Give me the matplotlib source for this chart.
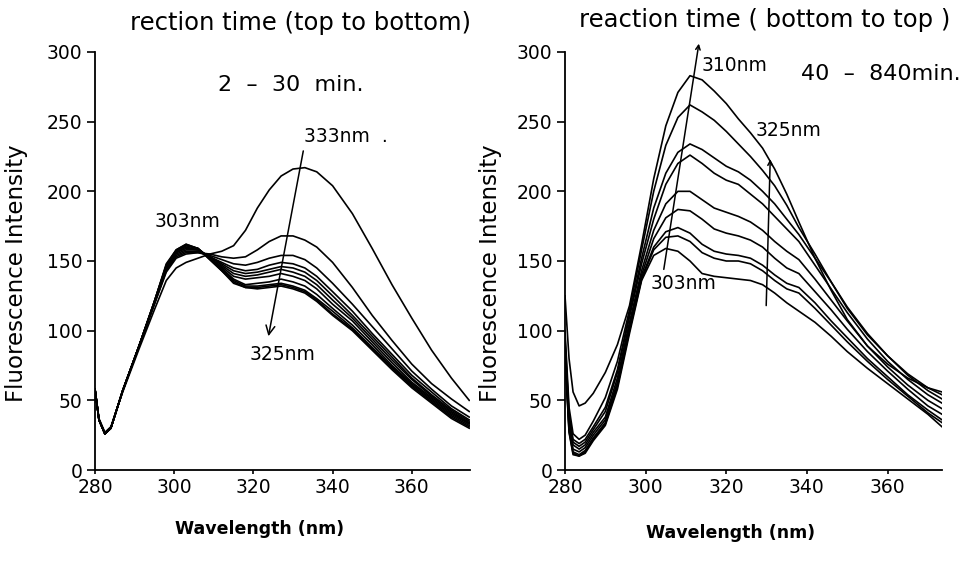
import matplotlib
matplotlib.use("Agg")
import matplotlib.pyplot as plt

plt.rcParams['font.family'] = ['DejaVu Sans']

# ---------------- data: left panel (2 - 30 min) ----------------
wl_left = [280, 281, 282.5, 284, 287, 291, 295, 298, 300.5, 303, 306, 309, 312, 315,
           318, 321, 324, 327, 330, 333, 336, 340, 345, 350, 355, 360, 365, 370, 374.5]
L1 = [58, 37, 27, 31, 56, 86, 115, 136, 145, 149, 152, 155, 157, 161, 172, 188, 201, 211, 216, 217, 214, 204, 184, 159, 133, 109, 86, 66, 50]
L2 = [58, 36, 26, 30, 57, 88, 119, 142, 152, 155, 156, 155, 153, 152, 153, 158, 164, 168, 168, 165, 160, 149, 131, 111, 93, 76, 62, 51, 42]
L3 = [58, 36, 26, 30, 57, 88, 119, 143, 153, 156, 156, 154, 151, 148, 147, 149, 152, 154, 154, 151, 145, 134, 119, 103, 87, 71, 58, 46, 38]
L4 = [58, 36, 26, 30, 57, 88, 120, 144, 154, 157, 157, 153, 149, 145, 143, 144, 147, 149, 148, 145, 139, 128, 114, 98, 83, 68, 56, 44, 36]
L5 = [58, 36, 26, 30, 57, 88, 120, 145, 155, 158, 158, 153, 148, 143, 141, 142, 144, 146, 145, 142, 136, 125, 111, 96, 81, 66, 54, 43, 35]
L6 = [58, 36, 26, 30, 57, 88, 120, 145, 156, 159, 158, 153, 147, 141, 139, 140, 142, 144, 142, 139, 133, 122, 109, 94, 79, 65, 53, 42, 34]
L7 = [58, 36, 26, 30, 57, 88, 120, 146, 156, 160, 158, 152, 146, 139, 137, 138, 139, 141, 139, 136, 130, 119, 107, 92, 77, 63, 52, 41, 33.5]
L8 = [58, 36, 26, 30, 57, 88, 121, 146, 157, 161, 159, 152, 145, 137, 133, 134, 135, 137, 135, 132, 126, 116, 104, 90, 75, 62, 51, 40, 33]
L9 = [58, 36, 26, 30, 57, 88, 121, 147, 157, 161, 159, 152, 144, 136, 132, 132, 133, 134, 132, 129, 123, 114, 102, 88, 74, 61, 50, 39, 32]
L10 = [58, 36, 26, 30, 57, 88, 121, 147, 158, 162, 159, 151, 143, 135, 131, 131, 132, 133, 131, 128, 122, 112, 101, 87, 73, 60, 49, 38, 31]
L11 = [58, 36, 26, 30, 57, 88, 121, 148, 158, 162, 159, 151, 143, 134, 131, 130, 131, 132, 130, 127, 121, 111, 100, 86, 72, 59, 48, 37, 30]
left_curves = [L1, L2, L3, L4, L5, L6, L7, L8, L9, L10, L11]

# ---------------- data: right panel (40 - 840 min) ----------------
wl_right = [280, 281, 282, 283.5, 285, 287, 290, 293, 296, 299, 302, 305, 308, 311, 314, 317,
            320, 323, 326, 329, 332, 335, 338, 342, 346, 350, 355, 360, 365, 370, 373.5]
R1 = [82, 27, 11, 10, 12, 21, 32, 58, 98, 136, 154, 159, 157, 150, 141, 139, 138, 137, 136, 133, 127, 120, 114, 106, 96, 85, 73, 62, 51, 40, 31]
R2 = [84, 28, 12, 10, 13, 22, 33, 60, 100, 137, 158, 167, 168, 164, 156, 152, 150, 150, 148, 143, 136, 130, 127, 116, 104, 92, 78, 65, 53, 41, 34]
R3 = [86, 30, 13, 11, 14, 23, 34, 61, 101, 138, 160, 171, 174, 170, 162, 157, 155, 154, 152, 147, 140, 134, 131, 120, 107, 95, 80, 67, 54, 43, 36]
R4 = [88, 32, 15, 13, 16, 25, 36, 63, 103, 140, 166, 181, 187, 186, 180, 173, 170, 168, 165, 160, 152, 145, 141, 128, 115, 101, 85, 71, 58, 46, 40]
R5 = [90, 35, 18, 15, 18, 27, 38, 66, 106, 143, 172, 191, 200, 200, 194, 188, 185, 182, 178, 172, 164, 157, 151, 137, 122, 107, 89, 74, 61, 50, 44]
R6 = [92, 38, 20, 17, 20, 29, 42, 70, 110, 148, 180, 205, 220, 226, 220, 213, 208, 205, 198, 191, 182, 173, 164, 147, 130, 113, 94, 78, 65, 54, 48]
R7 = [95, 40, 22, 19, 22, 31, 45, 72, 112, 152, 188, 213, 228, 234, 230, 224, 218, 214, 208, 200, 191, 180, 169, 152, 135, 117, 98, 82, 68, 57, 51]
R8 = [100, 45, 26, 22, 25, 35, 52, 78, 115, 158, 200, 233, 253, 262, 257, 251, 243, 234, 225, 215, 204, 190, 174, 155, 135, 116, 97, 82, 69, 59, 54]
R9 = [125, 80, 56, 46, 48, 55, 70, 90, 118, 162, 209, 247, 271, 283, 280, 272, 263, 252, 242, 231, 216, 198, 178, 152, 129, 108, 89, 76, 66, 59, 56]
right_curves = [R1, R2, R3, R4, R5, R6, R7, R8, R9]

x_ticks = [280, 300, 320, 340, 360]
y_ticks = [0, 50, 100, 150, 200, 250, 300]

fig = plt.figure(figsize=(9.71, 5.63), dpi=100)
axL = fig.add_axes([95 / 971, 1 - 470 / 563, 375 / 971, 418 / 563])
axR = fig.add_axes([565 / 971, 1 - 470 / 563, 377 / 971, 418 / 563])


def style(ax, xmax):
    ax.set_xlim(280, xmax)
    ax.set_ylim(0, 300)
    for s in ['top', 'right']:
        ax.spines[s].set_visible(False)
    for s in ['left', 'bottom']:
        ax.spines[s].set_linewidth(1.3)
    ax.set_xticks(x_ticks)
    ax.set_yticks(y_ticks)
    ax.tick_params(axis='both', direction='out', width=1.2, labelsize=13.5, pad=3)
    ax.tick_params(axis='y', length=6)
    ax.tick_params(axis='x', length=3)


for c in left_curves:
    axL.plot(wl_left, c, color='black', lw=1.2, solid_joinstyle='round')
for c in right_curves:
    axR.plot(wl_right, c, color='black', lw=1.2, solid_joinstyle='round')

style(axL, 374.7)
style(axR, 373.5)

for ax, xl in [(axL, (0.44, -0.12)), (axR, (0.44, -0.128))]:
    ax.set_xlabel('Wavelength (nm)', fontsize=12.5, fontweight='bold')
    ax.xaxis.set_label_coords(*xl)
    ax.set_ylabel('Fluorescence Intensity', fontsize=16.5)
axL.yaxis.set_label_coords(-0.178, 0.47)
axR.yaxis.set_label_coords(-0.166, 0.47)

# ---- left annotations ----
axL.text(332, 321, 'rection time (top to bottom)', fontsize=17.5, ha='center', va='center', clip_on=False)
axL.text(329.5, 276, '2  \u2013  30  min.', fontsize=16, ha='center', va='center')
axL.text(332.8, 239, '333nm  .', fontsize=13.5, ha='left', va='center')
axL.text(303.3, 178, '303nm', fontsize=13.5, ha='center', va='center')
axL.text(327.3, 83, '325nm', fontsize=13.5, ha='center', va='center')
axL.annotate('', xy=(323.8, 96), xytext=(332.6, 229),
             arrowprops=dict(arrowstyle='->', lw=1.1, color='black', mutation_scale=16,
                             shrinkA=0, shrinkB=0))

# ---- right annotations ----
axR.text(329.5, 323, 'reaction time ( bottom to top )', fontsize=17.5, ha='center', va='center', clip_on=False)
axR.text(313.8, 290, '310nm', fontsize=13.5, ha='left', va='center')
axR.text(338.5, 284, '40  \u2013  840min.', fontsize=16, ha='left', va='center', clip_on=False)
axR.text(327.2, 244, '325nm', fontsize=13.5, ha='left', va='center')
axR.text(309.5, 134, '303nm', fontsize=13.5, ha='center', va='center')
axR.annotate('', xy=(313.2, 306), xytext=(304.5, 144),
             arrowprops=dict(arrowstyle='->', lw=1.1, color='black', mutation_scale=8,
                             shrinkA=0, shrinkB=0), annotation_clip=False)
axR.annotate('', xy=(330.9, 223), xytext=(329.9, 118),
             arrowprops=dict(arrowstyle='->', lw=1.1, color='black', mutation_scale=8,
                             shrinkA=0, shrinkB=0))

fig.savefig('out.png', dpi=100, facecolor='white')
